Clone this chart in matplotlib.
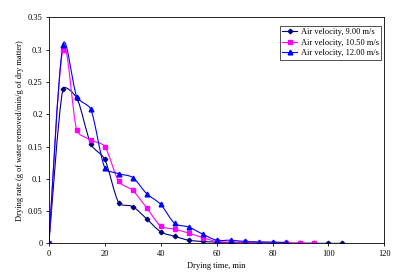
import matplotlib
matplotlib.use("Agg")
import matplotlib.pyplot as plt
import numpy as np
from matplotlib.path import Path
from matplotlib.patches import PathPatch
from matplotlib.lines import Line2D

plt.rcParams['font.family'] = ['Liberation Serif', 'DejaVu Serif']

# drying time (min) and drying rate for each air velocity
t_9 = [0, 5, 10, 15, 20, 25, 30, 35, 40, 45, 50, 55, 60, 65, 70, 75, 80, 85, 90, 95, 100, 105]
r_9 = [0, 0.239, 0.225, 0.154, 0.130, 0.063, 0.057, 0.038, 0.018, 0.011, 0.005, 0.003, 0.002,
       0.001, 0.001, 0.001, 0.0005, 0.0005, 0.0003, 0.0002, 0.0001, 0.0001]
t_105 = [0, 5, 10, 15, 20, 25, 30, 35, 40, 45, 50, 55, 60, 65, 70, 75, 80, 85, 90, 95]
r_105 = [0, 0.300, 0.175, 0.160, 0.150, 0.096, 0.082, 0.055, 0.027, 0.022, 0.016, 0.009, 0.003,
         0.002, 0.002, 0.001, 0.001, 0.0008, 0.0005, 0.0003]
t_12 = [0, 5, 10, 15, 20, 25, 30, 35, 40, 45, 50, 55, 60, 65, 70, 75, 80, 85]
r_12 = [0, 0.307, 0.227, 0.2075, 0.117, 0.108, 0.102, 0.077, 0.0605, 0.031, 0.0254, 0.0145, 0.005,
        0.005, 0.003, 0.0025, 0.002, 0.0015]

labels = ["Air velocity, 9.00 m/s", "Air velocity, 10.50 m/s", "Air velocity, 12.00 m/s"]
colors = ["#000080", "#FF00FF", "#0000FF"]
markers = ["D", "s", "^"]
msizes = [2.3, 3.2, 3.4]


def clamp(v, lim):
    n = np.hypot(*v)
    return v if n <= lim else v * lim / n


def smooth_path(ax, x, y):
    # Excel-like smoothed line, built in screen space
    p = ax.transData.transform(np.column_stack([x, y]))
    n = len(p)
    tang = [(p[min(i + 1, n - 1)] - p[max(i - 1, 0)]) / 6 for i in range(n)]
    verts = [p[0]]
    codes = [Path.MOVETO]
    for i in range(n - 1):
        lim = np.hypot(*(p[i + 1] - p[i])) / 3
        verts += [p[i] + clamp(tang[i], lim), p[i + 1] - clamp(tang[i + 1], lim), p[i + 1]]
        codes += [Path.CURVE4] * 3
    verts = ax.transData.inverted().transform(np.array(verts))
    return Path(verts, codes)


fig = plt.figure(figsize=(3.93, 2.76), dpi=100)
ax = fig.add_axes([0.1244, 0.118, 0.8535, 0.819])
ax.set_xlim(0, 120)
ax.set_ylim(0, 0.35)

for x, y, lab, c, m, ms in zip([t_9, t_105, t_12], [r_9, r_105, r_12], labels, colors, markers, msizes):
    ax.add_patch(PathPatch(smooth_path(ax, x, y), facecolor="none", edgecolor=c, lw=0.8))
    ax.plot(x, y, linestyle="none", marker=m, color=c, markersize=ms)

ax.set_xticks([0, 20, 40, 60, 80, 100, 120])
ax.set_yticks([0, 0.05, 0.1, 0.15, 0.2, 0.25, 0.3, 0.35])
ax.set_yticklabels(["0", "0.05", "0.1", "0.15", "0.2", "0.25", "0.3", "0.35"])
ax.tick_params(labelsize=6, length=2.5, width=0.6, pad=2)
for s in ax.spines.values():
    s.set_linewidth(0.6)
ax.set_xlabel("Drying time, min", fontsize=6, labelpad=3)
ax.set_ylabel("Drying rate (g of water removed/min/g of dry matter)", fontsize=6, labelpad=3)

handles = [Line2D([], [], color=c, marker=m, markersize=ms, lw=0.8) for c, m, ms in zip(colors, markers, msizes)]
leg = ax.legend(handles, labels, loc="upper right", bbox_to_anchor=(0.998, 0.975), fontsize=6,
                frameon=True, fancybox=False, edgecolor="black", handlelength=1.8,
                borderpad=0.3, labelspacing=0.3, handletextpad=0.4, borderaxespad=0.3)
leg.get_frame().set_linewidth(0.6)

fig.savefig("out.png", dpi=100)
